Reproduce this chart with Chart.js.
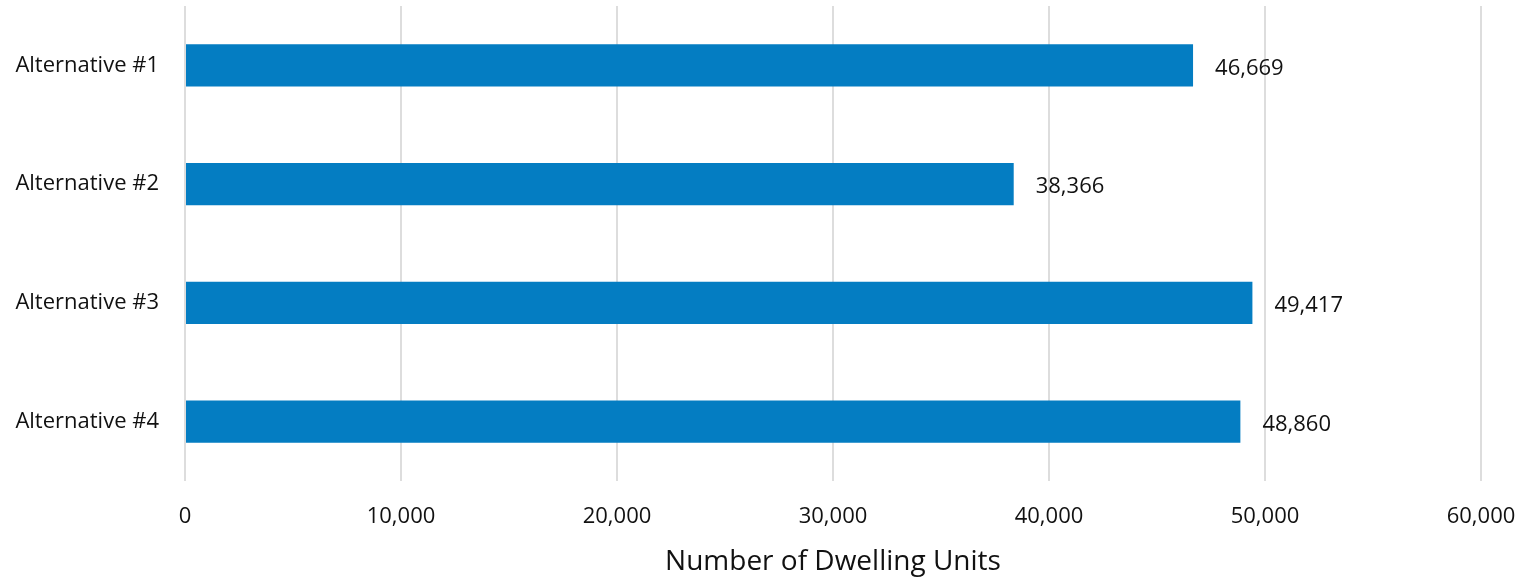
<!DOCTYPE html>
<html><head><meta charset="utf-8">
<script src="https://cdn.jsdelivr.net/npm/chart.js@4/dist/chart.umd.min.js"></script>
<style>html,body{margin:0;padding:0;background:#fff}#wrap{width:1531px;height:578px}</style>
</head><body><div id="wrap"><canvas id="c" width="1531" height="578"></canvas></div>
<script>
const categories = ["Alternative #1", "Alternative #2", "Alternative #3", "Alternative #4"];
const dwellingUnits = [46669, 38366, 49417, 48860];
const xTicks = [0, 10000, 20000, 30000, 40000, 50000, 60000];
const xTitle = "Number of Dwelling Units";

const FONT = "'Open Sans', sans-serif";
const fmt = v => v.toLocaleString('en-US');

const labelPlugin = {
  id: 'valueLabels',
  afterDatasetsDraw(chart) {
    const ctx = chart.ctx;
    const meta = chart.getDatasetMeta(0);
    ctx.save();
    ctx.font = "22px " + FONT;
    ctx.fillStyle = "#111";
    ctx.textAlign = "left";
    ctx.textBaseline = "middle";
    meta.data.forEach((bar, i) => {
      ctx.fillText(fmt(dwellingUnits[i]), bar.x + 22, bar.y + 3);
    });
    ctx.restore();
  }
};

new Chart(document.getElementById('c'), {
  type: 'bar',
  data: {
    labels: categories,
    datasets: [{
      data: dwellingUnits,
      backgroundColor: '#047DC2',
      categoryPercentage: 1,
      barPercentage: 0.354
    }]
  },
  plugins: [labelPlugin],
  options: {
    indexAxis: 'y',
    responsive: false,
    animation: false,
    layout: { padding: { top: 6, right: 50, left: 0, bottom: 0 } },
    plugins: { legend: { display: false }, tooltip: { enabled: false } },
    scales: {
      x: {
        min: 0, max: 60000,
        afterBuildTicks(scale) { scale.ticks = xTicks.map(v => ({ value: v })); },
        grid: { color: '#dddddd', lineWidth: 2, drawTicks: false },
        border: { display: false },
        ticks: { font: { family: FONT, size: 22 }, color: '#111', padding: 23, maxRotation: 0,
                 callback: v => fmt(v) },
        title: { display: true, text: xTitle, font: { family: FONT, size: 28 }, color: '#111',
                 padding: { top: 0, bottom: -1 } },
        afterFit(scale) { scale.height = 97; scale.paddingLeft = 0; scale.paddingRight = 0; }
      },
      y: {
        grid: { display: false, drawTicks: false },
        border: { display: false },
        ticks: { font: { family: FONT, size: 22 }, color: '#111', padding: 26 },
        afterFit(scale) { scale.width = 185; scale.paddingTop = 0; scale.paddingBottom = 0; }
      }
    }
  }
});
</script>
</body></html>
